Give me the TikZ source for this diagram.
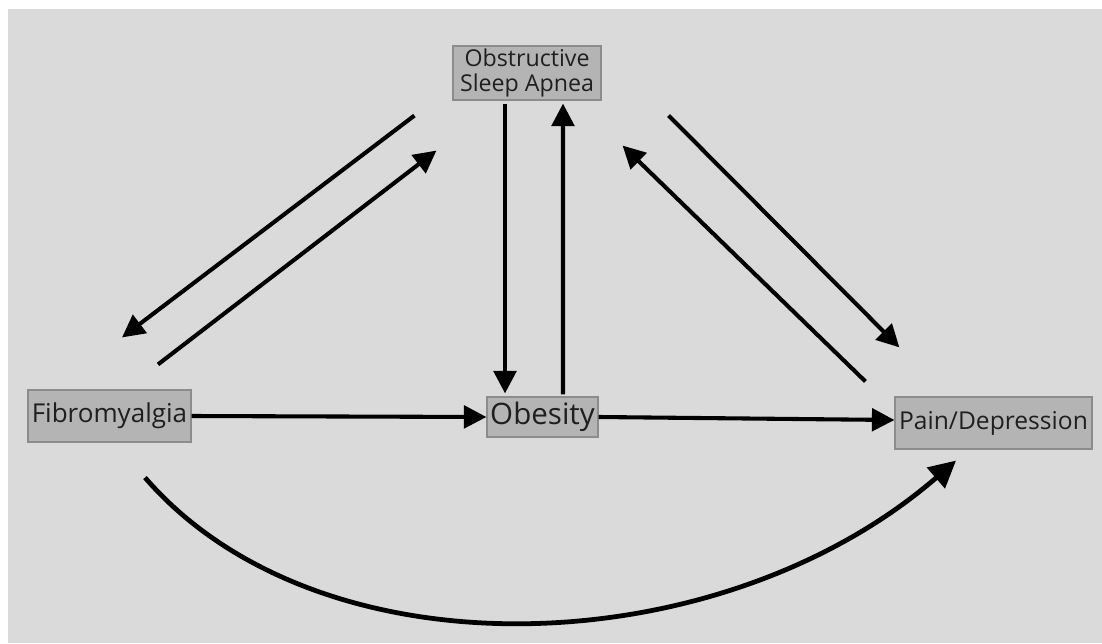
\documentclass[tikz,border=0pt]{standalone}
\usepackage{fontspec}
\setmainfont{Open Sans}
\usetikzlibrary{arrows.meta}
\definecolor{paneGray}{HTML}{DADADA}
\definecolor{boxGray}{HTML}{B4B4B4}
\tikzstyle{factor} = [rectangle, fill=boxGray, draw=black!45, line width=0.8pt, text=black!88, text centered, inner sep=0pt]
\tikzstyle{link} = [line width=2.9pt, -{Triangle[length=16pt,width=16pt]}]
\tikzstyle{bow} = [line width=3.4pt, -{Triangle[length=19pt,width=19pt]}]

\begin{document}
\begin{tikzpicture}[x=0.025cm, y=-0.025cm]
	\useasboundingbox (0,0) rectangle (1102,643);
	\fill[white] (0,0) rectangle (1102,643);
	\fill[paneGray] (8,9) rectangle (1102,643);
	\node (osa) at (527, 73) [factor, minimum width=3.7cm, minimum height=1.35cm, align=center, font=\fontsize{16.5}{18}\selectfont] {Obstructive\\Sleep Apnea};
	\node (fibro) at (109.5, 416) [factor, minimum width=4.075cm, minimum height=1.3cm, font=\fontsize{18.5}{20}\selectfont] {Fibromyalgia};
	\node (obesity) at (542.5, 417) [factor, minimum width=2.775cm, minimum height=1.0cm, font=\fontsize{21}{24}\selectfont] {Obesity};
	\node (pain) at (993.5, 423) [factor, minimum width=4.925cm, minimum height=1.3cm, font=\fontsize{17.5}{20}\selectfont] {Pain/Depression};
	\draw [link] ([shift={(-38,15)}]osa.south west) -- ([shift={(12.5,-52)}]fibro.north);
	\draw [link] ([shift={(48.5,-25)}]fibro.north) -- ([shift={(-16,50)}]osa.south west);
	\draw [link] ([shift={(-22,3)}]osa.south) -- ([shift={(-37.5,-3)}]obesity.north);
	\draw [link] ([shift={(20.5,-2)}]obesity.north) -- ([shift={(36,3)}]osa.south);
	\draw [link] ([shift={(67,15)}]osa.south east) -- ([shift={(5,-49)}]pain.north west);
	\draw [link] ([shift={(-29,-15)}]pain.north west) -- ([shift={(21,45)}]osa.south east);
	\draw [link] (fibro.east) -- (obesity.west);
	\draw [link] (obesity.east) -- ([shift={(0,-3)}]pain.west);
	\draw [bow] ([shift={(35.5,35)}]fibro.south) .. controls (320,680) and (720,665) .. ([shift={(-37.5,11)}]pain.south);
\end{tikzpicture}
\end{document}
